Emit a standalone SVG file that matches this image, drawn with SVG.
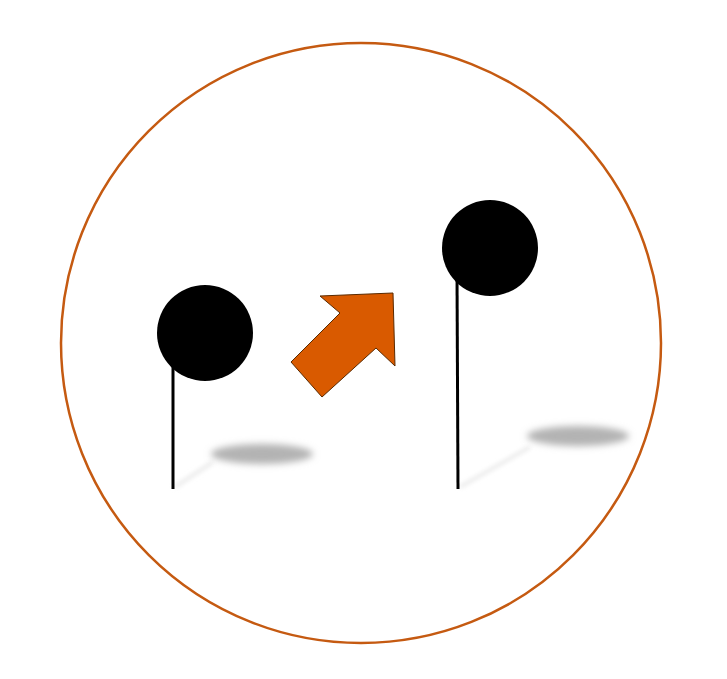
<svg xmlns="http://www.w3.org/2000/svg" width="727" height="679" viewBox="0 0 727 679">
<defs>
<filter id="blur" x="-50%" y="-100%" width="200%" height="300%"><feGaussianBlur stdDeviation="3.5"/></filter>
<filter id="blur2" x="-50%" y="-50%" width="200%" height="200%"><feGaussianBlur stdDeviation="2"/></filter>
<style>
.ball{fill:#000}
.stick{stroke:#000;stroke-width:3;fill:none}
.shadow{fill:#b3b3b3;filter:url(#blur)}
.trail{stroke:#ececec;stroke-width:4;fill:none;filter:url(#blur2)}
</style>
</defs>
<rect width="727" height="679" fill="#fff"/>
<circle id="frame" cx="361" cy="343" r="300" fill="#fff" stroke="#c55a11" stroke-width="2.5"/>
<g id="left-pin">
<line class="trail" x1="175" y1="487" x2="213" y2="462"/>
<ellipse class="shadow" cx="262" cy="454" rx="51" ry="10"/>
<line class="stick" x1="173" y1="360" x2="173" y2="489"/>
<circle class="ball" cx="205" cy="333" r="48"/>
</g>
<g id="right-pin">
<line class="trail" x1="460" y1="487" x2="530" y2="447"/>
<ellipse class="shadow" cx="578" cy="436" rx="51" ry="10"/>
<line class="stick" x1="457" y1="275" x2="458" y2="489"/>
<circle class="ball" cx="490" cy="248" r="48"/>
</g>
<g id="arrow">
<polygon points="393,293 320,296 340,313 291,362 322,397 376,348 395,366" fill="#d95a00" stroke="#5a2a00" stroke-width="1"/>
</g>
</svg>
